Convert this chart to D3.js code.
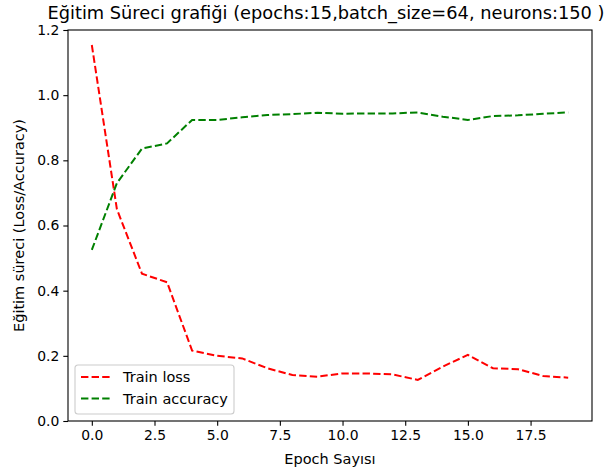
<!DOCTYPE html>
<html>
<head>
<meta charset="utf-8">
<script src="https://cdn.jsdelivr.net/npm/d3@7"></script>
<style>
  body { margin: 0; background: #fff; }
  text { font-family: "DejaVu Sans", sans-serif; fill: #000; }
</style>
</head>
<body>
<script>
var width = 606,
    height = 472;

// values
var epochs = [0, 1, 2, 3, 4, 5, 6, 7, 8, 9, 10, 11, 12, 13, 14, 15, 16, 17, 18, 19];
var trainLoss = [1.154, 0.65, 0.452, 0.426, 0.216, 0.2, 0.192, 0.162, 0.141, 0.136,
                 0.146, 0.146, 0.143, 0.126, 0.167, 0.203, 0.162, 0.159, 0.138, 0.133];
var trainAcc = [0.525, 0.73, 0.836, 0.852, 0.924, 0.924, 0.932, 0.939, 0.942, 0.946,
                0.943, 0.944, 0.944, 0.947, 0.934, 0.924, 0.936, 0.938, 0.943, 0.947];
var xTicks = [0, 2.5, 5, 7.5, 10, 12.5, 15, 17.5];
var yTicks = [0, 0.2, 0.4, 0.6, 0.8, 1.0, 1.2];
var seriesNames = ["Train loss", "Train accuracy"];
var seriesColors = ["#ff0000", "#008000"];

var margin = {top: 30, right: 14, bottom: 51, left: 68};
var w = width - margin.left - margin.right,
    h = height - margin.top - margin.bottom;

var x = d3.scaleLinear().domain([-0.95, 19.95]).range([0, w]);
var y = d3.scaleLinear().domain([0, 1.2]).range([h, 0]);

var svg = d3.select("body").append("svg")
    .attr("width", width)
    .attr("height", height);

var g = svg.append("g")
    .attr("transform", "translate(" + margin.left + "," + margin.top + ")");

var line = d3.line()
    .x(function (d, i) { return x(epochs[i]); })
    .y(function (d) { return y(d); });

[trainLoss, trainAcc].forEach(function (s, i) {
    g.append("path")
        .datum(s)
        .attr("d", line)
        .attr("fill", "none")
        .attr("stroke", seriesColors[i])
        .attr("stroke-width", 2)
        .attr("stroke-dasharray", "7.4,3.2");
});

// axes
var xAxis = g.append("g")
    .attr("transform", "translate(0," + h + ")")
    .call(d3.axisBottom(x).tickValues(xTicks).tickFormat(d3.format(".1f")).tickSizeOuter(0).tickSize(4.7).tickPadding(4.5));

var yAxis = g.append("g")
    .call(d3.axisLeft(y).tickValues(yTicks).tickFormat(d3.format(".1f")).tickSizeOuter(0).tickSize(4.7).tickPadding(4));

[xAxis, yAxis].forEach(function (a) {
    a.select(".domain").remove();
    a.selectAll("line").attr("stroke", "#000").attr("stroke-width", 1.1);
    a.selectAll("text").style("font-size", "13.9px").attr("fill", "#000");
});

// frame
g.append("rect")
    .attr("width", w)
    .attr("height", h)
    .attr("fill", "none")
    .attr("stroke", "#000")
    .attr("stroke-width", 1.1);

// title and labels
svg.append("text")
    .attr("x", margin.left + w / 2 - 4)
    .attr("y", 19)
    .attr("text-anchor", "middle")
    .style("font-size", "17.8px")
    .text("Eğitim Süreci grafiği (epochs:15,batch_size=64, neurons:150 )");

svg.append("text")
    .attr("x", margin.left + w / 2)
    .attr("y", 464)
    .attr("text-anchor", "middle")
    .style("font-size", "14.5px")
    .text("Epoch Sayısı");

svg.append("text")
    .attr("transform", "translate(24," + (margin.top + h / 2) + ") rotate(-90)")
    .attr("text-anchor", "middle")
    .style("font-size", "14.5px")
    .text("Eğitim süreci (Loss/Accuracy)");

// legend
var legend = g.append("g")
    .attr("transform", "translate(7," + (h - 56) + ")");

legend.append("rect")
    .attr("width", 159)
    .attr("height", 49)
    .attr("rx", 3)
    .attr("fill", "#fff")
    .attr("fill-opacity", 0.8)
    .attr("stroke", "#ccc")
    .attr("stroke-width", 1.1);

seriesNames.forEach(function (name, i) {
    var row = legend.append("g")
        .attr("transform", "translate(0," + (12 + i * 21.5) + ")");
    row.append("line")
        .attr("x1", 6).attr("x2", 36)
        .attr("stroke", seriesColors[i])
        .attr("stroke-width", 2)
        .attr("stroke-dasharray", "7.4,3.2");
    row.append("text")
        .attr("x", 48)
        .attr("dy", "0.35em")
        .style("font-size", "14.5px")
        .text(name);
});
</script>
</body>
</html>
